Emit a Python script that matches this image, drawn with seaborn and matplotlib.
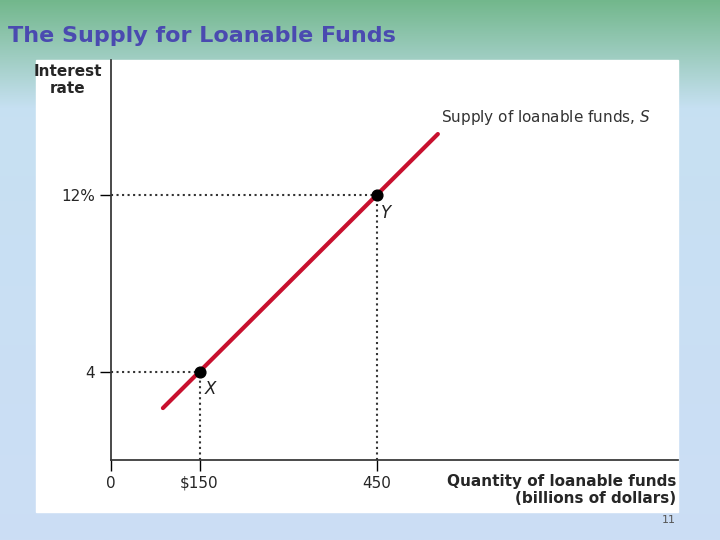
import numpy as np
import matplotlib
matplotlib.use('Agg')
import matplotlib.pyplot as plt
import seaborn as sns
import pandas as pd

sns.set_theme(style='white')
plt.rcParams['font.family'] = ['DejaVu Sans']

# data
supply_q = [88, 554]
supply_r = [2.35, 14.75]
point_q = [150, 450]
point_r = [4, 12]
point_names = ['X', 'Y']
xtick_labels = ['0', '$150', '450']
ytick_labels = ['4', '12%']

fig = plt.figure(figsize=(7.2, 5.4), dpi=100)

# slide background gradient (row 0 = top)
bg = fig.add_axes([0, 0, 1, 1])
top = np.array([0.45, 0.72, 0.55])
mid = np.array([0.78, 0.88, 0.95])
bot = np.array([0.80, 0.87, 0.96])
cols = np.zeros((256, 1, 3))
for i, g in enumerate(np.linspace(0, 1, 256)):
    if g < 0.2:
        cols[i, 0] = top + (mid - top) * g / 0.2
    else:
        cols[i, 0] = mid + (bot - mid) * (g - 0.2) / 0.8
bg.imshow(cols, aspect='auto', extent=[0, 1, 0, 1], origin='lower')
bg.set_xlim(0, 1)
bg.set_ylim(1, 0)
bg.axis('off')
bg.add_patch(plt.Rectangle((36/720, 60/540), 642/720, 452/540, color='white', zorder=2))
bg.text(8/720, 36/540, 'The Supply for Loanable Funds', fontsize=16, fontweight='bold',
        color='#4a4ab0', va='center', zorder=3)
bg.text(676/720, 520/540, '11', fontsize=8, color='#555555', ha='right', va='center', zorder=3)
bg.text(68/720, 80/540, 'Interest\nrate', fontsize=11, fontweight='bold',
        ha='center', va='center', zorder=3)
bg.text(676/720, 490/540, 'Quantity of loanable funds\n(billions of dollars)', fontsize=11,
        fontweight='bold', ha='right', va='center', multialignment='right', zorder=3)

ax = fig.add_axes([111/720, 80/540, 567/720, 400/540])
ax.set_facecolor('none')
df = pd.DataFrame({'q': supply_q, 'r': supply_r})
sns.lineplot(data=df, x='q', y='r', ax=ax, color='#c8102e', linewidth=3)
ax.set_xlim(0, 961)
ax.set_ylim(0, 18.1)
for q, r, n in zip(point_q, point_r, point_names):
    ax.plot([0, q], [r, r], ls=':', color='#333333', lw=1.5)
    ax.plot([q, q], [0, r], ls=':', color='#333333', lw=1.5)
    ax.scatter([q], [r], s=60, color='black', zorder=5)
    ax.text(q + 8, r - 0.4, n, fontsize=12, fontstyle='italic', va='top', color='#222222')
ax.text(560, 15.3, 'Supply of loanable funds, $S$', fontsize=11, color='#333333', ha='left')
ax.set_xticks([0] + point_q)
ax.set_xticklabels(xtick_labels, fontsize=11)
ax.set_yticks(point_r)
ax.set_yticklabels(ytick_labels, fontsize=11)
ax.tick_params(axis='both', length=8, width=1, color='black', direction='out', left=True, bottom=True)
for s in ['top', 'right']:
    ax.spines[s].set_visible(False)
for s in ['left', 'bottom']:
    ax.spines[s].set_color('#333333')
ax.set_xlabel('')
ax.set_ylabel('')
fig.savefig('out.png', dpi=100)
